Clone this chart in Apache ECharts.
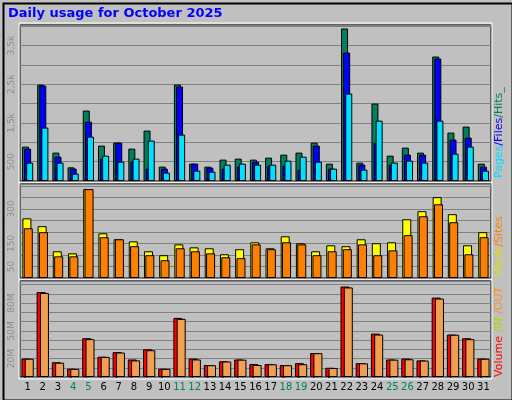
<!DOCTYPE html>
<html><head><meta charset="utf-8">
<script src="https://cdn.jsdelivr.net/npm/echarts@6/dist/echarts.min.js"></script>
<style>html,body{margin:0;padding:0;background:#c0c0c0}#c{width:512px;height:400px}</style>
</head><body><div id="c"></div>
<script>
const days = ['1','2','3','4','5','6','7','8','9','10','11','12','13','14','15','16','17','18','19','20','21','22','23','24','25','26','27','28','29','30','31'];
const weekendDays = ['4','5','11','12','18','19','25','26'];
const hits  = [888,2491,733,353,1819,914,991,836,1302,371,2491,448,371,552,578,552,603,681,733,991,448,3940,474,2000,655,862,733,3216,1250,1405,448];
const files = [836,2466,629,319,1534,578,991,500,319,319,2440,448,345,319,371,500,397,397,293,914,319,3319,422,991,422,681,681,3164,1069,1121,371];
const pages = [474,1379,474,190,1147,655,500,578,1043,216,1198,267,241,422,448,422,422,526,629,500,319,2259,293,1560,474,526,474,1560,707,888,267];
const visits = [259,225,116,107,386,194,168,159,116,99,146,133,129,103,125,155,129,181,151,116,142,138,168,151,155,255,290,351,277,142,199];
const sites  = [216,199,94,94,386,177,168,138,99,77,129,116,107,90,86,146,125,155,146,99,116,125,146,99,120,186,268,320,242,103,177];
const volume = [20,92,16,9,42,22,27,19,30,9,64,20,13,17,19,14,14,13,15,26,10,98,15,47,19,20,18,86,46,42,20];
const volIn  = [0.3,1.5,1.2,0.2,0.5,0.3,0.3,0.3,0.4,0.2,1.5,0.3,0.2,0.2,0.3,0.2,0.2,0.2,0.2,0.3,0.2,1.5,0.2,0.5,0.3,0.3,0.3,1.5,0.5,0.5,0.3];
const volOut = [19.8,91,15.5,8.8,41,21.8,26.5,18,29,8.8,63,19,12.8,16.8,18.8,13,13.8,12.8,13.8,25.8,9.8,97,14.8,46,18.8,19.2,17.8,85,45.8,41,19.8];
const topLabels = [500,1500,2500,3500];
const midLabels = [50,150,300];
const botLabels = [20,50,80];

const L=20, W=471;
const grids=[{left:L,width:W,top:25,height:156},{left:L,width:W,top:184,height:94},{left:L,width:W,top:281,height:96}];
function yAx(i,max,interval,labels,fmt){return{gridIndex:i,type:'value',min:0,max:max,interval:interval,
 axisLine:{show:false},axisTick:{show:false},
 splitLine:{lineStyle:{color:'#808080',width:1}},
 axisLabel:{rotate:90,color:'#8c8c8c',fontSize:9,fontFamily:'DejaVu Sans',margin:4,showMaxLabel:false,
  formatter:v=>labels.includes(v)?fmt(v):''}};}
function xAx(i,show){return{gridIndex:i,type:'category',data:days,axisLine:{show:false},axisTick:{show:false},
 axisLabel:{show:show,interval:0,fontSize:10,fontFamily:'DejaVu Sans',margin:5,
  color:'#000',formatter:v=>weekendDays.includes(v)?'{w|'+v+'}':v,rich:{w:{color:'#008060',fontSize:10,fontFamily:'DejaVu Sans'}}}};}
function bar(name,data,i,color,w,gap){return{name,type:'bar',xAxisIndex:i,yAxisIndex:i,data,barWidth:w,barGap:gap,
 itemStyle:{color,borderColor:'#000',borderWidth:1},animation:false};}
const ch=echarts.init(document.getElementById('c'));
const f='11px "DejaVu Sans"';
ch.setOption({backgroundColor:'#c0c0c0',animation:false,
 grid:grids.map(g=>Object.assign({show:true,borderColor:'#000',borderWidth:1,backgroundColor:'#c0c0c0'},g)),
 xAxis:[xAx(0,false),xAx(1,false),xAx(2,true)],
 yAxis:[yAx(0,4030,500,topLabels,v=>v>=1000?(v/1000).toString().replace('.',',')+'k':v),
        yAx(1,408,50,midLabels,v=>v),
        yAx(2,104,10,botLabels,v=>v+'M')],
 series:[bar('Hits',hits,0,'#00805c',7,'-70%'),bar('Files',files,0,'#0000ff',7,'-70%'),bar('Pages',pages,0,'#00e0ff',7,'-70%'),
  bar('Visits',visits,1,'#ffff00',9,'-85%'),bar('Sites',sites,1,'#ff8000',9,'-85%'),
  bar('Volume',volume,2,'#ff0000',9,'-85%'),bar('IN',volIn,2,'#ffff00',2,'-100%'),bar('OUT',volOut,2,'#f0a050',9,'-70%')],
 graphic:[
  {type:'rect',left:1,top:1,shape:{width:509,height:397},style:{fill:'none',stroke:'#000',lineWidth:2},silent:true},
  {type:'rect',shape:{x:L-1,y:23,width:W+2,height:159},style:{fill:'none',stroke:'#fff',lineWidth:1},silent:true},
  {type:'rect',shape:{x:L-1,y:182,width:W+2,height:97},style:{fill:'none',stroke:'#fff',lineWidth:1},silent:true},
  {type:'rect',shape:{x:L-1,y:279,width:W+2,height:100},style:{fill:'none',stroke:'#fff',lineWidth:1},silent:true},
  {type:'text',left:8,top:7,style:{text:'Daily usage for October 2025',fill:'#0000ff',font:'bold 13px "DejaVu Sans"'}},
  {type:'text',x:494,y:178,rotation:Math.PI/2,style:{text:'{a|Pages}{b|/Files}{c|/Hits_}',font:f,
    rich:{a:{fill:'#00e0ff',font:f},b:{fill:'#0000ff',font:f},c:{fill:'#00805c',font:f}}}},
  {type:'text',x:494,y:276,rotation:Math.PI/2,style:{text:'{a|Visits}{b|/Sites}',font:f,
    rich:{a:{fill:'#e0e000',font:f},b:{fill:'#ff8000',font:f}}}},
  {type:'text',x:494,y:377,rotation:Math.PI/2,style:{text:'{a|Volume}{b| /IN}{c| /OUT}',font:f,
    rich:{a:{fill:'#ff0000',font:f},b:{fill:'#c0d000',font:f},c:{fill:'#ff9020',font:f}}}}
 ]});
</script></body></html>
